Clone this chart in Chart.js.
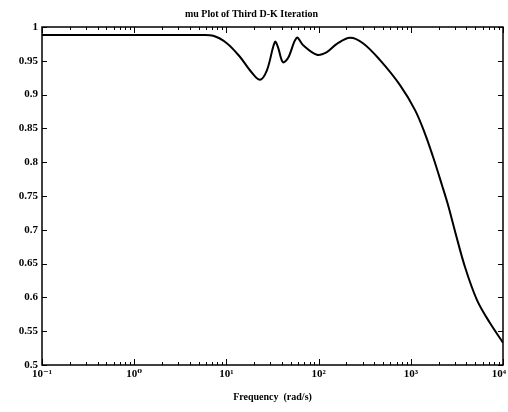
<!DOCTYPE html>
<html>
<head>
<meta charset="utf-8">
<script src="https://cdn.jsdelivr.net/npm/chart.js@4"></script>
<style>
  body { margin: 0; background: #fff; }
  #wrap { width: 508px; height: 412px; }
</style>
</head>
<body>
<div id="wrap"><canvas id="mu_plot"></canvas></div>
<script>
// frequency (rad/s) and mu upper bound
const freq = [0.1, 1, 5, 7.2, 10.1, 14, 18, 23, 27.5, 33.6, 36.3, 41, 46.6, 58, 68, 96, 123, 158, 219, 303, 464, 764, 1112, 1427, 1742, 2180, 2531, 3015, 3870, 5225, 7228, 10000];
const mu = [0.988, 0.988, 0.988, 0.987, 0.976, 0.956, 0.936, 0.922, 0.936, 0.978, 0.970, 0.948, 0.954, 0.984, 0.973, 0.959, 0.963, 0.975, 0.984, 0.976, 0.951, 0.914, 0.877, 0.842, 0.808, 0.766, 0.737, 0.698, 0.645, 0.596, 0.562, 0.533];

const xMajor = [0.1, 1, 10, 100, 1000, 10000];
const xLabels = ["10\u207B\u00B9", "10\u2070", "10\u00B9", "10\u00B2", "10\u00B3", "10\u2074"];
const yTicks = [0.5, 0.55, 0.6, 0.65, 0.7, 0.75, 0.8, 0.85, 0.9, 0.95, 1];

const xMinor = [];
xMajor.slice(0, -1).forEach((d) => {
  for (let k = 2; k <= 9; k++) xMinor.push(d * k);
});

const serif = "'Liberation Serif', 'DejaVu Serif', serif";

const frameTicks = {
  id: "frameTicks",
  afterDraw(chart) {
    const { ctx, chartArea: a, scales } = chart;
    ctx.save();
    ctx.strokeStyle = "#000";
    ctx.lineWidth = 1.5;
    ctx.strokeRect(a.left, a.top, a.right - a.left, a.bottom - a.top);
    ctx.lineWidth = 1;
    ctx.beginPath();
    const xt = (v, len) => {
      const px = Math.round(scales.x.getPixelForValue(v)) + 0.5;
      ctx.moveTo(px, a.bottom); ctx.lineTo(px, a.bottom - len);
      ctx.moveTo(px, a.top); ctx.lineTo(px, a.top + len);
    };
    xMajor.forEach((v) => xt(v, 6));
    xMinor.forEach((v) => xt(v, 3));
    yTicks.forEach((v) => {
      const py = Math.round(scales.y.getPixelForValue(v)) + 0.5;
      ctx.moveTo(a.left, py); ctx.lineTo(a.left + 5, py);
      ctx.moveTo(a.right, py); ctx.lineTo(a.right - 5, py);
    });
    ctx.stroke();
    ctx.restore();
  },
};

new Chart(document.getElementById("mu_plot"), {
  type: "line",
  data: {
    datasets: [
      {
        label: "mu",
        data: freq.map((f, i) => ({ x: f, y: mu[i] })),
        borderColor: "#000",
        borderWidth: 2,
        pointRadius: 0,
        fill: false,
        tension: 0.35,
      },
    ],
  },
  options: {
    responsive: true,
    maintainAspectRatio: false,
    animation: false,
    layout: { padding: { left: 0, right: 5, top: 0, bottom: 0 } },
    plugins: {
      legend: { display: false },
      tooltip: { enabled: false },
      title: {
        display: true,
        text: "mu Plot of Third D-K Iteration",
        color: "#000",
        font: { family: serif, size: 10, weight: "bold" },
        padding: { top: 8, bottom: 7 },
      },
    },
    scales: {
      x: {
        type: "logarithmic",
        min: 0.1,
        max: 10000,
        afterBuildTicks: (s) => { s.ticks = xMajor.map((v) => ({ value: v })); },
        afterFit: (s) => {
          s.height = 47;
          s.paddingLeft = 0;
          s.paddingRight = 0;
        },
        ticks: {
          autoSkip: false,
          maxRotation: 0,
          padding: 3,
          color: "#000",
          font: { family: serif, size: 11, weight: "bold" },
          // last label pushed left so it stays inside the canvas
          callback: (v, i) => (i === xLabels.length - 1 ? xLabels[i] + "\u00A0\u00A0\u00A0" : xLabels[i]),
        },
        grid: { display: false, drawTicks: false },
        border: { display: false },
        title: {
          display: true,
          text: "Frequency  (rad/s)",
          color: "#000",
          font: { family: serif, size: 10, weight: "bold" },
          padding: { top: 0, bottom: 9 },
        },
      },
      y: {
        min: 0.5,
        max: 1,
        afterBuildTicks: (s) => { s.ticks = yTicks.map((v) => ({ value: v })); },
        afterFit: (s) => { s.width = 42; },
        ticks: {
          padding: 4,
          color: "#000",
          font: { family: serif, size: 11, weight: "bold" },
          callback: (v) => String(+Number(v).toFixed(2)),
        },
        grid: { display: false, drawTicks: false },
        border: { display: false },
      },
    },
  },
  plugins: [frameTicks],
});
</script>
</body>
</html>
